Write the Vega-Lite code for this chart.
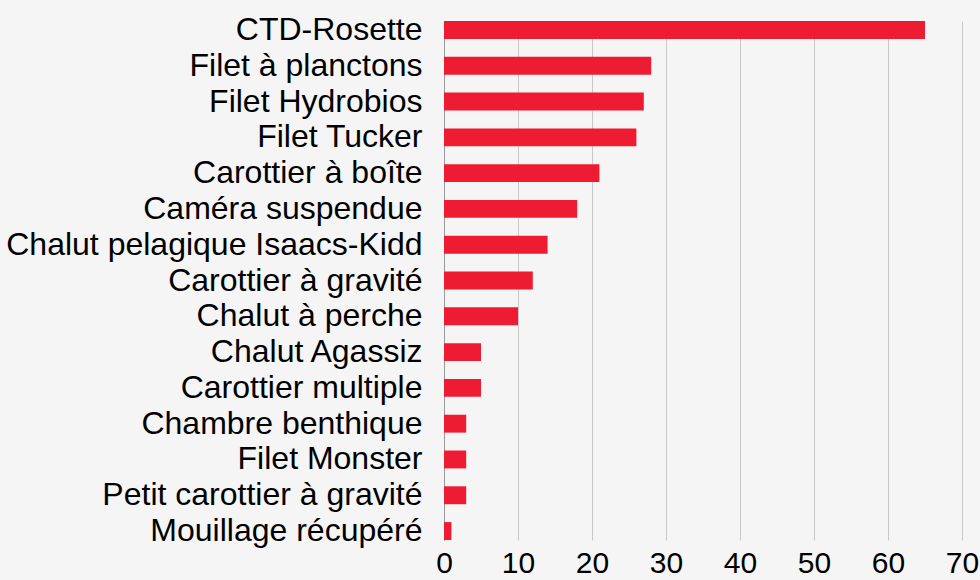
{
  "$schema": "https://vega.github.io/schema/vega-lite/v6.json",
  "autosize": {"type": "none"},
  "padding": {"left": 444, "top": 21, "right": 18, "bottom": 40},
  "width": 518,
  "height": 519,
  "background": "#f5f5f5",
  "config": {
    "view": {"stroke": null},
    "font": "Liberation Sans"
  },
  "data": {
    "values": [
      {"instrument": "CTD-Rosette", "count": 65},
      {"instrument": "Filet à planctons", "count": 28},
      {"instrument": "Filet Hydrobios", "count": 27},
      {"instrument": "Filet Tucker", "count": 26},
      {"instrument": "Carottier à boîte", "count": 21},
      {"instrument": "Caméra suspendue", "count": 18},
      {"instrument": "Chalut pelagique Isaacs-Kidd", "count": 14},
      {"instrument": "Carottier à gravité", "count": 12},
      {"instrument": "Chalut à perche", "count": 10},
      {"instrument": "Chalut Agassiz", "count": 5},
      {"instrument": "Carottier multiple", "count": 5},
      {"instrument": "Chambre benthique", "count": 3},
      {"instrument": "Filet Monster", "count": 3},
      {"instrument": "Petit carottier à gravité", "count": 3},
      {"instrument": "Mouillage récupéré", "count": 1}
    ]
  },
  "mark": {"type": "bar", "color": "#ee1c32"},
  "encoding": {
    "y": {
      "field": "instrument",
      "type": "nominal",
      "sort": null,
      "scale": {"paddingInner": 0.5, "paddingOuter": 0},
      "axis": {
        "title": null,
        "ticks": false,
        "labelFontSize": 32,
        "labelColor": "#000000",
        "labelPadding": 22,
        "domainColor": "#999999",
        "domainWidth": 1,
        "labelLimit": 0
      }
    },
    "x": {
      "field": "count",
      "type": "quantitative",
      "scale": {"domain": [0, 70], "nice": false},
      "axis": {
        "title": null,
        "values": [0, 10, 20, 30, 40, 50, 60, 70],
        "domain": false,
        "ticks": false,
        "grid": true,
        "gridColor": "#c8c8c8",
        "gridWidth": 1,
        "labelFontSize": 30,
        "labelColor": "#000000",
        "labelPadding": 8,
        "labelFlush": false,
        "labelOverlap": false
      }
    }
  }
}
